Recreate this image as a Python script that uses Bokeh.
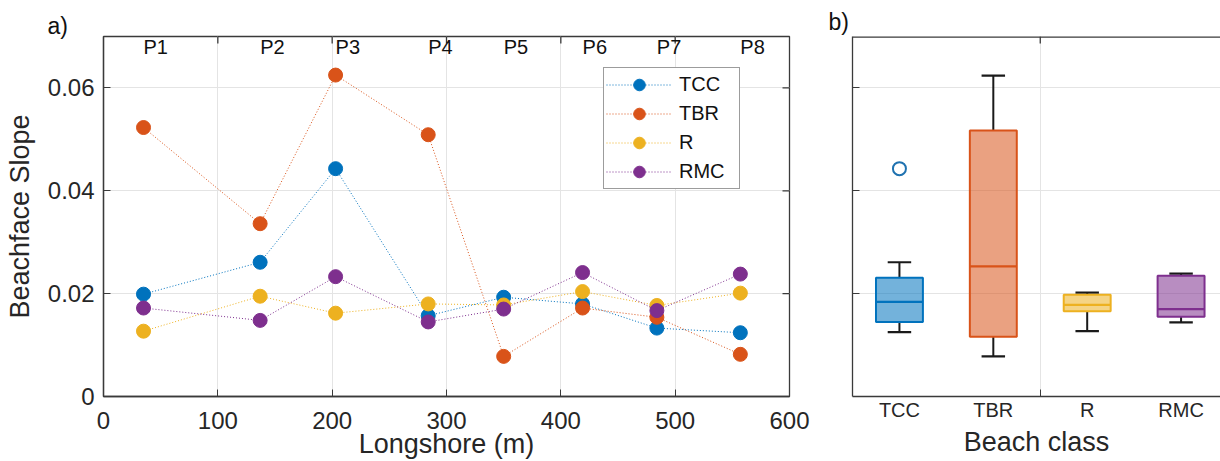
import math
from bokeh.plotting import figure
from bokeh.layouts import row
from bokeh.models import (ColumnDataSource, FixedTicker, Range1d, Span, Title)
from bokeh.transform import dodge
from bokeh.embed import file_html
from bokeh.resources import INLINE
from bokeh.core.properties import value

# ---------------- data ----------------
profiles = ["P1", "P2", "P3", "P4", "P5", "P6", "P7", "P8"]
longshore_m = [35, 137, 203, 284, 350, 419, 484, 557]
slope_tcc = [0.0199, 0.0261, 0.0443, 0.0157, 0.0193, 0.0180, 0.0133, 0.0124]
slope_tbr = [0.0523, 0.0336, 0.0625, 0.0509, 0.0078, 0.0172, 0.0154, 0.0082]
slope_r = [0.0127, 0.0195, 0.0162, 0.0180, 0.0178, 0.0204, 0.0177, 0.0201]
slope_rmc = [0.0172, 0.0148, 0.0233, 0.0145, 0.0170, 0.0241, 0.0167, 0.0238]

x_ticks = [0, 100, 200, 300, 400, 500, 600]
y_ticks = [0, 0.02, 0.04, 0.06]

classes = ["TCC", "TBR", "R", "RMC"]
class_pos = [1, 2, 3, 4]
box_q1 = [0.0145, 0.0116, 0.0166, 0.0155]
box_med = [0.0184, 0.0253, 0.0178, 0.0170]
box_q3 = [0.0231, 0.0517, 0.0198, 0.0235]
whisk_lo = [0.0125, 0.0078, 0.0127, 0.0144]
whisk_hi = [0.0261, 0.0624, 0.0202, 0.0239]
outlier_pos = [1]
outlier_val = [0.0443]

colors = ["#0072BD", "#D95319", "#EDB120", "#7E2F8E"]
FONT = "Liberation Sans"
DARK = "#262626"
FRAME = "#3a3a3a"
GRID = "#e4e4e4"
TICK_LEN = 7

# ---------------- panel a ----------------
p1 = figure(width=820, height=461, output_backend="svg", toolbar_location=None,
            x_range=Range1d(0, 600), y_range=Range1d(0, 0.07),
            min_border_left=103, min_border_right=31, min_border_top=33, min_border_bottom=64)
p1.outline_line_color = FRAME
p1.outline_line_width = 1.3
p1.background_fill_color = "white"
p1.border_fill_color = "white"

for ax in (p1.xaxis[0], p1.yaxis[0]):
    ax.major_tick_in = TICK_LEN
    ax.major_tick_out = 0
    ax.minor_tick_line_color = None
    ax.axis_line_color = FRAME
    ax.axis_line_width = 1.3
    ax.major_tick_line_color = FRAME
    ax.major_label_text_font = FONT
    ax.major_label_text_font_size = "24px"
    ax.major_label_text_color = DARK
    ax.axis_label_text_font = FONT
    ax.axis_label_text_font_size = "27px"
    ax.axis_label_text_font_style = "normal"
    ax.axis_label_text_color = DARK

p1.xaxis[0].ticker = FixedTicker(ticks=x_ticks)
p1.yaxis[0].ticker = FixedTicker(ticks=y_ticks)
p1.yaxis[0].major_label_overrides = {0: "0", 0.02: "0.02", 0.04: "0.04", 0.06: "0.06"}
p1.xaxis[0].axis_label = "Longshore (m)"
p1.yaxis[0].axis_label = "Beachface Slope"
p1.xaxis[0].major_label_standoff = 15
p1.xaxis[0].axis_label_standoff = -3
p1.yaxis[0].major_label_standoff = 9
p1.yaxis[0].axis_label_standoff = 10

p1.xgrid.ticker = FixedTicker(ticks=x_ticks)
p1.ygrid.ticker = FixedTicker(ticks=y_ticks)
p1.xgrid.grid_line_color = GRID
p1.ygrid.grid_line_color = GRID

# mirrored inward ticks on top and right edges
p1.ray(x=x_ticks[1:-1], y=[0.07] * (len(x_ticks) - 2), length=TICK_LEN, length_units="screen",
       angle=-math.pi / 2, line_color=FRAME, line_width=1.3)
p1.ray(x=[600] * (len(y_ticks) - 1), y=y_ticks[1:], length=TICK_LEN, length_units="screen",
       angle=math.pi, line_color=FRAME, line_width=1.3)

series = [("TCC", slope_tcc), ("TBR", slope_tbr), ("R", slope_r), ("RMC", slope_rmc)]
for (name, vals), col in zip(series, colors):
    src = ColumnDataSource(dict(x=longshore_m, y=vals))
    p1.line("x", "y", source=src, line_color=col, line_width=1, line_dash="1 2",
            legend_label=name)
    p1.scatter("x", "y", source=src, marker="circle", size=14, fill_color=col,
               line_color=col, legend_label=name)

p1.text(x="x", y="y", text="t",
        source=ColumnDataSource(dict(x=longshore_m, y=[0.0679] * len(profiles), t=profiles)),
        text_font=value(FONT), text_font_size="20px", text_align="left",
        text_baseline="middle", text_color="#111111")

lg = p1.legend[0]
lg.location = (500, 207)
lg.glyph_width = 66
lg.glyph_height = 29
lg.spacing = 0
lg.padding = 2
lg.margin = 0
lg.label_standoff = 7
lg.label_width = 58
lg.label_height = 20
lg.label_text_font = FONT
lg.label_text_font_size = "20px"
lg.label_text_color = "#111111"
lg.border_line_color = FRAME
lg.border_line_width = 1.3
lg.background_fill_alpha = 1.0

p1.title = Title(text="a)", align="left", offset=-56, standoff=-4, text_font=FONT,
                 text_font_size="23px", text_font_style="normal", text_color="#111111")

# ---------------- panel b ----------------
p2 = figure(width=400, height=461, output_backend="svg", toolbar_location=None,
            x_range=Range1d(0.5, 4.42), y_range=Range1d(0, 0.07),
            min_border_left=32, min_border_right=0, min_border_top=36, min_border_bottom=63)
p2.outline_line_color = None
p2.background_fill_color = "white"
p2.border_fill_color = "white"

xa = p2.xaxis[0]
xa.ticker = FixedTicker(ticks=class_pos, minor_ticks=[2.5])
xa.major_label_overrides = {p: c for p, c in zip(class_pos, classes)}
xa.major_tick_in = 0
xa.major_tick_out = 0
xa.minor_tick_in = TICK_LEN
xa.minor_tick_out = 0
xa.minor_tick_line_color = FRAME
xa.axis_line_color = FRAME
xa.axis_line_width = 1.3
xa.major_label_text_font = FONT
xa.major_label_text_font_size = "20px"
xa.major_label_text_color = DARK
xa.major_label_standoff = 2
xa.axis_label = "Beach class"
xa.axis_label_text_font = FONT
xa.axis_label_text_font_size = "27px"
xa.axis_label_text_font_style = "normal"
xa.axis_label_text_color = DARK
xa.axis_label_standoff = 3

ya = p2.yaxis[0]
ya.ticker = FixedTicker(ticks=[], minor_ticks=[0.02, 0.04, 0.06])
ya.major_tick_in = 0
ya.major_tick_out = 0
ya.minor_tick_in = TICK_LEN
ya.minor_tick_out = 0
ya.minor_tick_line_color = FRAME
ya.axis_line_color = FRAME
ya.axis_line_width = 1.3

# top edge of the box with its inward tick
p2.add_layout(Span(location=0.07, dimension="width", line_color=FRAME, line_width=2.6))
p2.ray(x=[2.5], y=[0.07], length=TICK_LEN, length_units="screen", angle=-math.pi / 2,
       line_color=FRAME, line_width=1.3)

p2.xgrid.ticker = FixedTicker(ticks=[2.5])
p2.ygrid.ticker = FixedTicker(ticks=[0.02, 0.04, 0.06])
p2.xgrid.grid_line_color = GRID
p2.ygrid.grid_line_color = GRID

bsrc = ColumnDataSource(dict(x=class_pos, q1=box_q1, med=box_med, q3=box_q3,
                             lo=whisk_lo, hi=whisk_hi, c=colors))
WH = "#1a1a1a"
p2.segment(x0="x", y0="q3", x1="x", y1="hi", source=bsrc, line_color=WH, line_width=2)
p2.segment(x0="x", y0="lo", x1="x", y1="q1", source=bsrc, line_color=WH, line_width=2)
p2.segment(x0=dodge("x", -0.125), y0="hi", x1=dodge("x", 0.125), y1="hi", source=bsrc,
           line_color=WH, line_width=2.2)
p2.segment(x0=dodge("x", -0.125), y0="lo", x1=dodge("x", 0.125), y1="lo", source=bsrc,
           line_color=WH, line_width=2.2)
p2.vbar(x="x", bottom="q1", top="q3", width=0.5, source=bsrc, fill_color="c", fill_alpha=0.55,
        line_color="c", line_width=2)
p2.segment(x0=dodge("x", -0.25), y0="med", x1=dodge("x", 0.25), y1="med", source=bsrc,
           line_color="c", line_width=2.2)
p2.scatter(x=outlier_pos, y=outlier_val, marker="circle", size=13, fill_color=None,
           line_color="#1f72b0", line_width=2)

p2.title = Title(text="b)", align="left", offset=-24, standoff=3, text_font=FONT,
                 text_font_size="23px", text_font_style="normal", text_color="#111111")

layout = row(p1, p2)
open("out.html", "w").write(file_html(layout, INLINE))
